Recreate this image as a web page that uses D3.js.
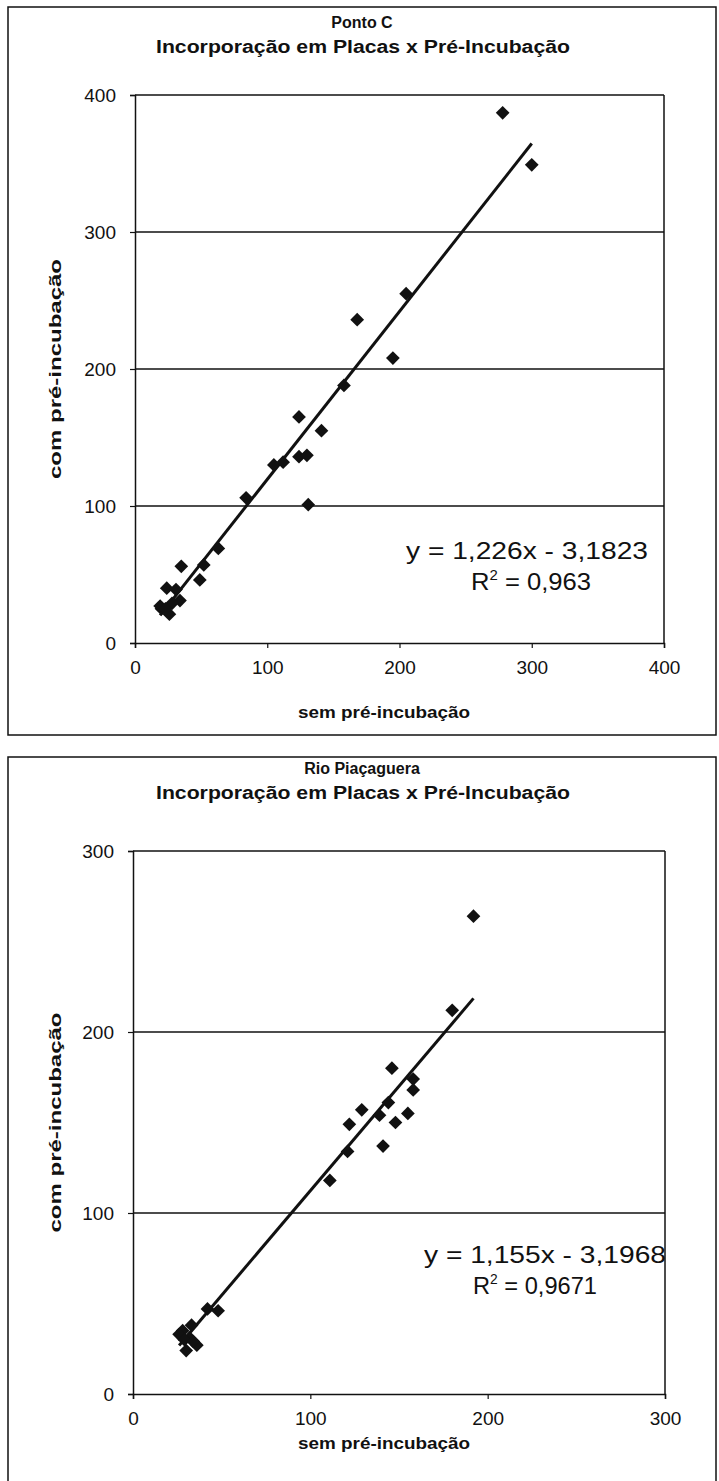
<!DOCTYPE html>
<html>
<head>
<meta charset="utf-8">
<script src="https://cdn.jsdelivr.net/npm/d3@7"></script>
<style>
  body { margin: 0; background: #fff; }
  text { font-family: "Liberation Sans", Arial, sans-serif; fill: #111; }
</style>
</head>
<body>
<script>
var width = 719;
var height = 1481;

// Ponto C
var pontoX = [278, 300, 205, 168, 195, 158, 124, 141, 105, 112, 124, 130, 131, 84, 63, 52, 49, 35,
              24, 31, 34, 20, 26, 19, 28, 23];
var pontoY = [387, 349, 255, 236, 208, 188, 165, 155, 130, 132, 136, 137, 101, 106, 69, 57, 46, 56,
              40, 39, 31, 25, 21, 27, 29, 25];
var pontoTicks = [0, 100, 200, 300, 400];

// Rio Piaçaguera
var rioX = [192, 180, 146, 158, 158, 144, 129, 139, 155, 148, 122, 121, 141, 111, 42, 48,
            28, 32, 30, 26, 36, 33, 29, 34];
var rioY = [264, 212, 180, 174, 168, 161, 157, 154, 155, 150, 149, 134, 137, 118, 47, 46,
            35, 31, 24, 33, 27, 38, 30, 29];
var rioTicks = [0, 100, 200, 300];

var svg = d3.select("body")
  .append("svg")
  .attr("width", width)
  .attr("height", height);

var panels = [
  {title: "Ponto C", xs: pontoX, ys: pontoY, ticks: pontoTicks, max: 400,
   slope: 1.226, icpt: -3.1823, eq: "y = 1,226x - 3,1823", r2: " = 0,963",
   frame: {x: 8, y: 7, w: 708, h: 728},
   plot: {left: 135, right: 664, top: 95, bottom: 643},
   titleY: 28, xTitleY: 718, eqX: 527, r2X: 531, eqY: 559, eqW: 242, r2W: 120},
  {title: "Rio Piaçaguera", xs: rioX, ys: rioY, ticks: rioTicks, max: 300,
   slope: 1.155, icpt: -3.1968, eq: "y = 1,155x - 3,1968", r2: " = 0,9671",
   frame: {x: 8, y: 757, w: 708, h: 740},
   plot: {left: 133, right: 665, top: 851, bottom: 1394},
   titleY: 774, xTitleY: 1449, eqX: 545, r2X: 535, eqY: 1263, eqW: 242, r2W: 124}
];

panels.forEach(function(p) {
  var g = svg.append("g");

  g.append("rect")
    .attr("x", p.frame.x).attr("y", p.frame.y)
    .attr("width", p.frame.w).attr("height", p.frame.h)
    .attr("fill", "none").attr("stroke", "#111").attr("stroke-width", 1.5);

  var x = d3.scaleLinear().domain([0, p.max]).range([p.plot.left, p.plot.right]);
  var y = d3.scaleLinear().domain([0, p.max]).range([p.plot.bottom, p.plot.top]);

  // gridlines
  g.selectAll(".grid")
    .data(p.ticks.slice(1))
    .enter()
    .append("line")
      .attr("x1", p.plot.left).attr("x2", p.plot.right)
      .attr("y1", function(d) { return y(d); })
      .attr("y2", function(d) { return y(d); })
      .attr("stroke", "#111").attr("stroke-width", 1.5);

  // right border of plot area
  g.append("line")
    .attr("x1", p.plot.right).attr("x2", p.plot.right)
    .attr("y1", p.plot.top).attr("y2", p.plot.bottom)
    .attr("stroke", "#111").attr("stroke-width", 1.5);

  var xAxis = g.append("g")
    .attr("transform", `translate(0,${p.plot.bottom})`)
    .call(d3.axisBottom(x).tickValues(p.ticks).tickSize(5).tickPadding(13));

  var yAxis = g.append("g")
    .attr("transform", `translate(${p.plot.left},0)`)
    .call(d3.axisLeft(y).tickValues(p.ticks).tickSize(5).tickPadding(14));

  [xAxis, yAxis].forEach(function(a) {
    a.select(".domain").attr("stroke", "#111").attr("stroke-width", 1.5);
    a.selectAll(".tick line").attr("stroke", "#111").attr("stroke-width", 1.2);
    a.selectAll(".tick text")
      .attr("fill", "#111")
      .style("font-size", "19px")
      .style("font-family", "'Liberation Sans', Arial, sans-serif");
  });

  // titles
  g.append("text")
    .attr("x", 362).attr("y", p.titleY)
    .attr("text-anchor", "middle")
    .style("font-size", "16px").style("font-weight", "bold")
    .text(p.title);
  g.append("text")
    .attr("x", 363).attr("y", p.titleY + 25)
    .attr("text-anchor", "middle")
    .attr("textLength", 414).attr("lengthAdjust", "spacingAndGlyphs")
    .style("font-size", "18px").style("font-weight", "bold")
    .text("Incorporação em Placas x Pré-Incubação");

  g.append("text")
    .attr("x", 384).attr("y", p.xTitleY)
    .attr("text-anchor", "middle")
    .attr("textLength", 172).attr("lengthAdjust", "spacingAndGlyphs")
    .style("font-size", "17px").style("font-weight", "bold")
    .text("sem pré-incubação");

  g.append("text")
    .attr("transform", `translate(61,${(p.plot.top + p.plot.bottom) / 2}) rotate(-90)`)
    .attr("text-anchor", "middle")
    .attr("textLength", 220).attr("lengthAdjust", "spacingAndGlyphs")
    .style("font-size", "17px").style("font-weight", "bold")
    .text("com pré-incubação");

  // trend line over the x range of the data
  var xmin = d3.min(p.xs), xmax = d3.max(p.xs);
  g.append("line")
    .attr("x1", x(xmin)).attr("y1", y(p.slope * xmin + p.icpt))
    .attr("x2", x(xmax)).attr("y2", y(p.slope * xmax + p.icpt))
    .attr("stroke", "#111").attr("stroke-width", 3);

  // points
  var diamond = d3.symbol().type(d3.symbolDiamond2).size(120);
  g.selectAll(".pt")
    .data(p.xs.map(function(v, i) { return [v, p.ys[i]]; }))
    .enter()
    .append("path")
      .attr("d", diamond)
      .attr("transform", function(d) { return `translate(${x(d[0])},${y(d[1])})`; })
      .attr("fill", "#111");

  // equation
  g.append("text")
    .attr("x", p.eqX).attr("y", p.eqY)
    .attr("text-anchor", "middle")
    .attr("textLength", p.eqW).attr("lengthAdjust", "spacingAndGlyphs")
    .style("font-size", "24px")
    .text(p.eq);
  var r = g.append("text")
    .attr("x", p.r2X).attr("y", p.eqY + 31)
    .attr("text-anchor", "middle")
    .attr("textLength", p.r2W).attr("lengthAdjust", "spacingAndGlyphs")
    .style("font-size", "24px");
  r.append("tspan").text("R");
  r.append("tspan").attr("dy", -10).style("font-size", "14px").text("2");
  r.append("tspan").attr("dy", 10).text(p.r2);
});
</script>
</body>
</html>
